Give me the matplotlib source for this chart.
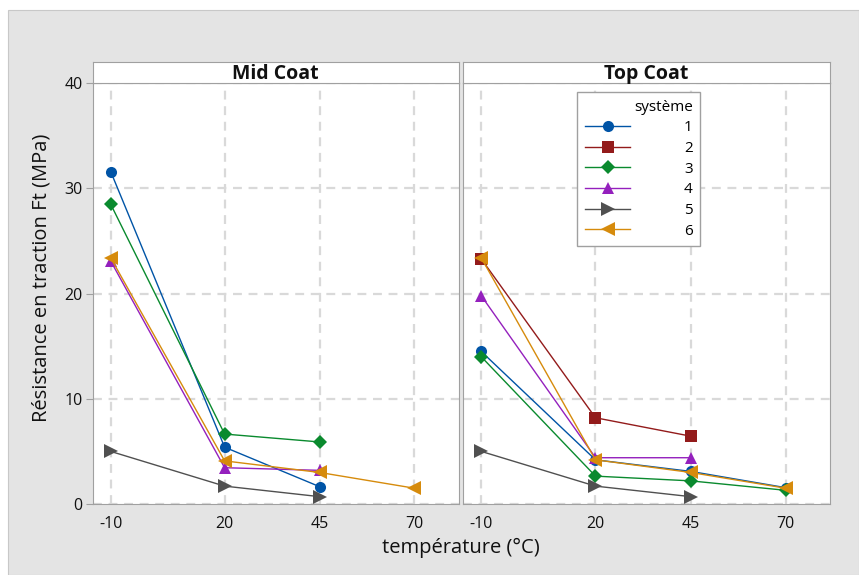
import matplotlib
matplotlib.use("Agg")
import matplotlib.pyplot as plt
from matplotlib.patches import Rectangle

plt.rcParams['font.family'] = ['Open Sans', 'DejaVu Sans']
plt.rcParams['axes.unicode_minus'] = False

temps = [-10, 20, 45, 70]
panels = ['Mid Coat', 'Top Coat']

# systeme -> values per panel (None = absent)
mid = {
    1: [31.6, 5.4, 1.65, None],
    3: [28.5, 6.65, 5.9, None],
    4: [23.1, 3.45, 3.2, None],
    5: [5.0, 1.7, 0.7, None],
    6: [23.4, 4.1, 3.0, 1.5],
}
top = {
    1: [14.5, 4.2, 3.1, 1.55],
    2: [23.3, 8.2, 6.45, None],
    3: [14.0, 2.65, 2.2, 1.3],
    4: [19.8, 4.4, 4.4, None],
    5: [5.0, 1.7, 0.7, None],
    6: [23.4, 4.2, 3.0, 1.5],
}
systemes = [1, 2, 3, 4, 5, 6]
colors = {1: '#0054a6', 2: '#931b1b', 3: '#0a8a2e', 4: '#9420bd', 5: '#505050', 6: '#d68b0c'}
markers = {1: 'o', 2: 's', 3: 'D', 4: '^', 5: '>', 6: '<'}
msizes = {1: 8, 2: 8, 3: 7, 4: 9, 5: 10, 6: 10}

W, H = 859, 575
fig = plt.figure(figsize=(W / 100, H / 100), dpi=100)
fig.patch.set_facecolor('white')
fig.patches.append(Rectangle((8 / W, 0), 1 - 8 / W, 1 - 10 / H, transform=fig.transFigure,
                             facecolor='#e4e4e4', edgecolor='#c8c8c8', lw=0.8, zorder=-10))

def px(x0, y0, x1, y1):
    return [x0 / W, 1 - y1 / H, (x1 - x0) / W, (y1 - y0) / H]

boxes = [(92.5, 458.5), (463, 830)]
edge = '#a0a0a0'
axes = []
for i, (x0, x1) in enumerate(boxes):
    ax = fig.add_axes(px(x0, 83.3, x1, 504))
    st = fig.add_axes(px(x0, 61.7, x1, 83.3))
    st.set_xticks([]); st.set_yticks([])
    for s in st.spines.values():
        s.set_color(edge)
    st.text(0.5, 0.45, panels[i], ha='center', va='center', fontsize=14, fontweight='bold',
            transform=st.transAxes, color='#111111')
    data = mid if i == 0 else top
    for k in systemes:
        if k not in data:
            continue
        xs = [t for t, v in zip(temps, data[k]) if v is not None]
        ys = [v for v in data[k] if v is not None]
        ax.plot(xs, ys, color=colors[k], lw=1, marker=markers[k], ms=msizes[k],
                markeredgewidth=0, label=str(k), zorder=3)
    ax.set_xlim(-14.8, 81.6)
    ax.set_ylim(0, 40)
    ax.set_xticks(temps)
    ax.set_yticks([0, 10, 20, 30, 40])
    ax.grid(True, color='#d9d9d9', lw=1.6, ls=(0, (4, 3)), zorder=0)
    for s in ax.spines.values():
        s.set_color(edge)
    ax.tick_params(axis='x', length=0, pad=9, labelsize=11.5, labelcolor='#111111')
    ax.tick_params(axis='y', length=5, color=edge, pad=2, labelsize=11.5, labelcolor='#111111')
    if i == 1:
        ax.tick_params(axis='y', length=0, labelleft=False)
    axes.append(ax)

# legend (all systemes)
handles = []
for k in systemes:
    h, = axes[1].plot([], [], color=colors[k], lw=1, marker=markers[k], ms=msizes[k],
                      markeredgewidth=0)
    handles.append(h)
leg = axes[1].legend(handles, [str(k) for k in systemes], title='système',
                     loc='upper left', bbox_to_anchor=(577 / W, 1 - 92 / H),
                     bbox_transform=fig.transFigure, frameon=True, fancybox=False,
                     edgecolor=edge, framealpha=1, fontsize=11, title_fontsize=11,
                     handlelength=3.0, handletextpad=3.5, labelspacing=0.37,
                     borderpad=0.5, borderaxespad=0, alignment='right')
leg.get_frame().set_linewidth(1)

fig.text(42 / W, 1 - 278 / H, 'Résistance en traction Ft (MPa)', rotation=90,
         ha='center', va='center', fontsize=14.5, color='#111111')
fig.text(461 / W, 1 - 548 / H, 'température (°C)', ha='center', va='center',
         fontsize=14.5, color='#111111')

fig.savefig('out.png', dpi=100)
